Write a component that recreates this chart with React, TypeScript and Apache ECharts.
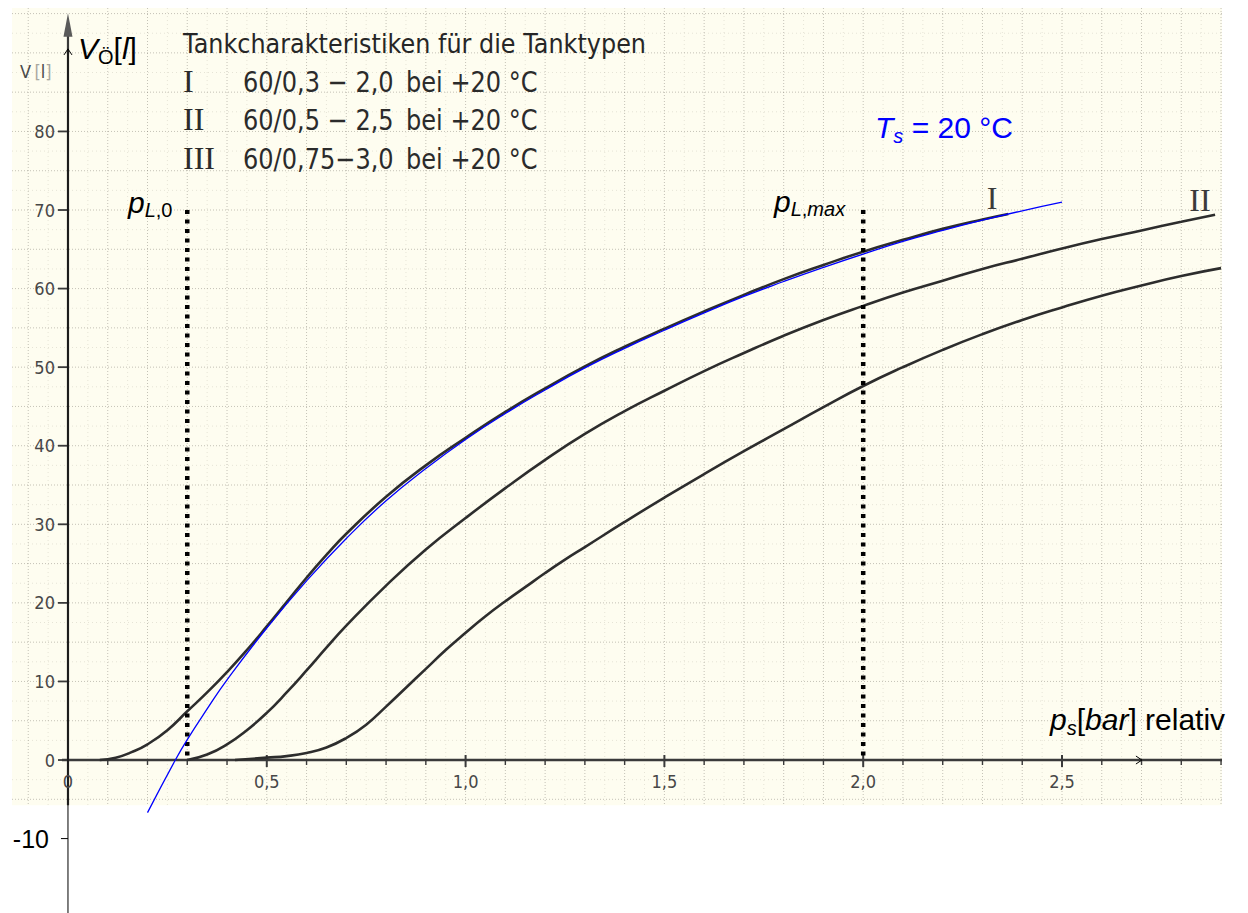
import React, { useEffect, useRef } from "react";
import * as echarts from "echarts";

// ---- Tank characteristics: pressure p_s [bar] -> oil volume V [l] ----
const pressureI = [0.08, 0.12, 0.16, 0.2, 0.25, 0.3, 0.35, 0.4, 0.45, 0.5, 0.55, 0.6, 0.65, 0.7, 0.8, 0.9, 1.0, 1.1, 1.2, 1.3, 1.4, 1.5, 1.6, 1.7, 1.8, 1.9, 2.0, 2.1, 2.2, 2.3, 2.365];
const volumeI = [0, 0.3, 1.0, 2.0, 3.8, 6.2, 8.6, 11.2, 14.0, 17.0, 20.1, 23.2, 26.1, 28.8, 33.5, 37.5, 41.0, 44.3, 47.3, 50.1, 52.6, 54.9, 57.1, 59.2, 61.2, 63.0, 64.7, 66.2, 67.6, 68.8, 69.5];

const pressureII = [0.3, 0.35, 0.4, 0.45, 0.5, 0.55, 0.6, 0.65, 0.7, 0.8, 0.9, 1.0, 1.1, 1.2, 1.3, 1.4, 1.5, 1.6, 1.7, 1.8, 1.9, 2.0, 2.1, 2.2, 2.3, 2.4, 2.5, 2.6, 2.7, 2.8, 2.885];
const volumeII = [0, 0.7, 2.0, 3.8, 6.0, 8.6, 11.4, 14.3, 17.1, 22.2, 26.8, 30.8, 34.6, 38.2, 41.5, 44.4, 47.0, 49.5, 51.8, 54.0, 56.0, 57.8, 59.5, 61.0, 62.5, 63.8, 65.1, 66.3, 67.4, 68.5, 69.4];

const pressureIII = [0.42, 0.5, 0.55, 0.6, 0.65, 0.7, 0.75, 0.8, 0.85, 0.9, 0.95, 1.0, 1.05, 1.1, 1.15, 1.2, 1.25, 1.3, 1.4, 1.5, 1.6, 1.7, 1.8, 1.9, 2.0, 2.1, 2.2, 2.3, 2.4, 2.5, 2.6, 2.7, 2.8, 2.9];
const volumeIII = [0, 0.3, 0.5, 0.9, 1.6, 2.8, 4.5, 6.8, 9.2, 11.6, 14.0, 16.2, 18.3, 20.2, 22.0, 23.8, 25.5, 27.1, 30.3, 33.4, 36.4, 39.3, 42.1, 44.9, 47.6, 50.0, 52.2, 54.2, 56.0, 57.6, 59.1, 60.4, 61.6, 62.6];

// Fitted curve for T_s = 20 °C
const pressureFit = [0.2, 0.27, 0.3, 0.35, 0.4, 0.5, 0.6, 0.7, 0.8, 0.9, 1.0, 1.1, 1.2, 1.3, 1.4, 1.5, 1.6, 1.7, 1.8, 1.9, 2.0, 2.1, 2.2, 2.3, 2.4, 2.5];
const volumeFit = [-6.7, 0, 2.6, 6.5, 10.2, 16.8, 22.8, 28.2, 33.0, 37.1, 40.8, 44.1, 47.1, 49.9, 52.4, 54.7, 56.9, 59.0, 60.9, 62.7, 64.4, 66.0, 67.4, 68.7, 69.9, 71.0];

// Pressure markers p_L,0 and p_L,max
const pL0 = 0.3;
const pLmax = 2.0;
const markerTop = 70;

// Axis labels
const xTickValues = [0, 0.5, 1.0, 1.5, 2.0, 2.5];
const xTickLabels = ["0", "0,5", "1,0", "1,5", "2,0", "2,5"];
const yTickValues = [-10, 0, 10, 20, 30, 40, 50, 60, 70, 80];

// Legend text
const chartTitle = "Tankcharakteristiken für die Tanktypen";
const tankTypes = ["I", "II", "III"];
const tankRanges = ["60/0,3 − 2,0", "60/0,5 − 2,5", "60/0,75−3,0"];
const tankCondition = "bei +20 °C";

// ---- view extents (data space) ----
const X_MIN = -0.1408;
const X_MAX = 2.9024;
const Y_MIN = -19.47;
const Y_MAX = 95.71;
const PAPER_BOTTOM = -5.75;
const SCAN_ARROW_TIP = 95.05;
const SCAN_ARROW_BASE = 92.3;
const OVERLAY_Y_TIP = 90.5;
const OVERLAY_X_TIP = 2.701;

// plot box in pixels
const GRID_LEFT = 12;
const GRID_TOP = 8;
const GRID_W = 1210;
const GRID_H = 905;
// axes cross at the origin, so shift them in from the plot edges
const X_AXIS_OFFSET = -((0 - Y_MIN) / (Y_MAX - Y_MIN)) * GRID_H;
const Y_AXIS_OFFSET = -((0 - X_MIN) / (X_MAX - X_MIN)) * GRID_W;

const PAPER = "#fefdf0";
const GRID_STRONG = "rgba(95,90,80,0.36)";
const GRID_FAINT = "rgba(120,115,100,0.18)";
const INK = "#3a3a3a";
const CURVE = "#2d2d2d";
const BLUE = "#0000ff";

const SERIF = "'Liberation Serif', 'DejaVu Serif', serif";
const SANS = "'Liberation Sans', Arial, sans-serif";
const TYPE = "'DejaVu Sans', sans-serif";
const NARROW = "'Liberation Sans Narrow', 'DejaVu Sans Condensed', sans-serif";

const pairs = (xs: number[], ys: number[]) => xs.map((x, i) => [x, ys[i]]);

// Graph paper, scanned axes and the thin overlay axes
const renderBackdrop = (_params: any, api: any) => {
  const at = (x: number, y: number) => api.coord([x, y]) as number[];
  const [left, top] = at(X_MIN, Y_MAX);
  const [right, bottom] = at(X_MAX, PAPER_BOTTOM);
  const [ox, oy] = at(0, 0);
  const kids: any[] = [];

  kids.push({
    type: "rect",
    shape: { x: left, y: top, width: right - left, height: bottom - top },
    style: { fill: PAPER },
  });

  for (let i = -2; i <= 58; i++) {
    const p = i * 0.05;
    if (p <= X_MIN || p >= X_MAX || i === 0) continue;
    const x = at(p, 0)[0];
    const strong = i % 2 === 0;
    kids.push({
      type: "line",
      shape: { x1: x, y1: top, x2: x, y2: bottom },
      style: { stroke: strong ? GRID_STRONG : GRID_FAINT, lineWidth: 1, lineDash: strong ? [1, 2] : [1, 3] },
    });
  }
  for (let j = -2; j <= 38; j++) {
    const v = j * 2.5;
    if (v <= PAPER_BOTTOM || v >= Y_MAX || j === 0) continue;
    const y = at(0, v)[1];
    const strong = j % 2 === 0;
    kids.push({
      type: "line",
      shape: { x1: left, y1: y, x2: right, y2: y },
      style: { stroke: strong ? GRID_STRONG : GRID_FAINT, lineWidth: 1, lineDash: strong ? [1, 2] : [1, 3] },
    });
  }

  // scanned vertical axis with filled arrowhead
  const arrowBase = at(0, SCAN_ARROW_BASE)[1];
  const arrowTip = at(0, SCAN_ARROW_TIP)[1];
  kids.push({ type: "line", shape: { x1: ox, y1: bottom, x2: ox, y2: arrowBase }, style: { stroke: INK, lineWidth: 2.2 } });
  kids.push({
    type: "polygon",
    shape: { points: [[ox, arrowTip], [ox - 4.5, arrowBase + 2], [ox + 4.5, arrowBase + 2]] },
    style: { fill: "#5a5a5a" },
  });
  // scanned horizontal axis
  kids.push({ type: "line", shape: { x1: ox - 6, y1: oy, x2: right, y2: oy }, style: { stroke: INK, lineWidth: 2.4 } });
  for (let i = 0; i <= 29; i++) {
    const x = at(i / 10, 0)[0];
    const major = i % 5 === 0;
    kids.push({
      type: "line",
      shape: { x1: x, y1: major ? oy - 5 : oy, x2: x, y2: major ? oy + 7 : oy + 5 },
      style: { stroke: INK, lineWidth: major ? 2 : 1.4 },
    });
  }
  for (let v = 0; v <= 80; v += 10) {
    const y = at(0, v)[1];
    kids.push({ type: "line", shape: { x1: ox - 10, y1: y, x2: ox, y2: y }, style: { stroke: INK, lineWidth: 1.8 } });
  }

  // overlay axes (thin, open arrows)
  const tipY = at(0, OVERLAY_Y_TIP)[1];
  const baseY = at(0, Y_MIN)[1];
  kids.push({ type: "line", shape: { x1: ox, y1: baseY, x2: ox, y2: tipY }, style: { stroke: "#000", lineWidth: 1 } });
  kids.push({
    type: "polyline",
    shape: { points: [[ox - 4, tipY + 6], [ox, tipY], [ox + 4, tipY + 6]] },
    style: { stroke: "#000", lineWidth: 1, fill: null },
  });
  const tipX = at(OVERLAY_X_TIP, 0)[0];
  kids.push({
    type: "polyline",
    shape: { points: [[tipX - 6, oy - 4], [tipX, oy], [tipX - 6, oy + 4]] },
    style: { stroke: "#000", lineWidth: 1, fill: null },
  });
  const yNeg = at(0, -10)[1];
  kids.push({ type: "line", shape: { x1: ox - 7, y1: yNeg, x2: ox, y2: yNeg }, style: { stroke: "#000", lineWidth: 1 } });

  return { type: "group", children: kids };
};

const mathRich = (fill: string) => ({
  it: { fontFamily: SANS, fontStyle: "italic", fontSize: 30, lineHeight: 36, fill },
  up: { fontFamily: SANS, fontSize: 30, lineHeight: 36, fill },
  sit: { fontFamily: SANS, fontStyle: "italic", fontSize: 20, lineHeight: 20, verticalAlign: "bottom", fill },
  sup: { fontFamily: SANS, fontSize: 20, lineHeight: 20, verticalAlign: "bottom", fill },
});

const mathText = (x: number, y: number, text: string, fill = "#000") => ({
  type: "text",
  x,
  y,
  z: 100,
  silent: true,
  style: { text, fill, verticalAlign: "middle", align: "left", rich: mathRich(fill) },
});

const plainText = (x: number, y: number, text: string, font: string, size: number, fill: string, scaleX = 1, align = "left") => ({
  type: "text",
  x,
  y,
  z: 100,
  scaleX,
  silent: true,
  style: { text, fontFamily: font, fontSize: size, fill, verticalAlign: "middle", align },
});

const rowY = [81.5, 120, 158.5];

const graphicElements: any[] = [
  plainText(183, 44, chartTitle, TYPE, 26, "#262626", 0.92),
  ...tankTypes.map((t, i) => plainText(183, rowY[i] - 1, t, SERIF, 32, "#2b2b2b")),
  ...tankRanges.map((t, i) => plainText(243, rowY[i], t, TYPE, 29, "#2b2b2b", 0.83)),
  ...tankRanges.map((_, i) => plainText(406, rowY[i], tankCondition, TYPE, 29, "#2b2b2b", 0.83)),
  plainText(992, 198, "I", SERIF, 32, "#3a3a3a", 1, "center"),
  plainText(1200, 200, "II", SERIF, 32, "#3a3a3a", 1, "center"),
  {
    type: "text",
    x: 20,
    y: 71,
    z: 100,
    silent: true,
    style: {
      text: "{a|V} {b|[}{a|l}{b|]}",
      verticalAlign: "middle",
      rich: {
        a: { fontFamily: NARROW, fontSize: 18, fill: "#4a4a4a" },
        b: { fontFamily: NARROW, fontSize: 18, fill: "#a8a8a0" },
      },
    },
  },
  mathText(78, 48.5, "{it|V}{sup|Ö}{up|[}{it|l}{up|]}"),
  mathText(128, 202, "{it|p}{sit|L}{sup|,0}"),
  mathText(774, 201, "{it|p}{sit|L}{sup|,}{sit|max}"),
  mathText(875, 127.5, "{it|T}{sit|s}{up| = 20 °C}", BLUE),
  mathText(1050, 719.5, "{it|p}{sit|s}{up|[}{it|bar}{up|] relativ}"),
];

const lineSeries = (name: string, data: number[][], color: string, width: number, z: number) => ({
  type: "line",
  name,
  data,
  smooth: 0.5,
  symbol: "none",
  lineStyle: { color, width },
  z,
});

const option: any = {
  animation: false,
  grid: {
    left: GRID_LEFT,
    top: GRID_TOP,
    width: GRID_W,
    height: GRID_H,
    containLabel: false,
    outerBoundsMode: "none",
  },
  xAxis: {
    type: "value",
    min: X_MIN,
    max: X_MAX,
    position: "bottom",
    offset: X_AXIS_OFFSET,
    axisLine: { show: false, onZero: false },
    axisTick: { show: false },
    splitLine: { show: false },
    axisLabel: {
      customValues: xTickValues,
      formatter: (v: number) => {
        const i = xTickValues.findIndex((t) => Math.abs(t - v) < 1e-9);
        return i >= 0 ? xTickLabels[i] : "";
      },
      margin: 12,
      fontFamily: NARROW,
      fontSize: 18,
      color: "#474747",
    },
  },
  yAxis: {
    type: "value",
    min: Y_MIN,
    max: Y_MAX,
    position: "left",
    offset: Y_AXIS_OFFSET,
    axisLine: { show: false, onZero: false },
    axisTick: { show: false },
    splitLine: { show: false },
    axisLabel: {
      customValues: yTickValues,
      formatter: (v: number) => (v < 0 ? `{ov|${v}}` : `{sc|${v}}`),
      margin: 13,
      rich: {
        sc: { fontFamily: NARROW, fontSize: 18, color: "#474747" },
        ov: { fontFamily: SANS, fontSize: 25, color: "#000", padding: [0, 6, 0, 0] },
      },
    },
  },
  graphic: { elements: graphicElements },
  series: [
    {
      type: "custom",
      coordinateSystem: "cartesian2d",
      renderItem: renderBackdrop,
      data: [[0, 0]],
      silent: true,
      z: 0,
    },
    lineSeries("I", pairs(pressureI, volumeI), CURVE, 2.6, 2),
    lineSeries("II", pairs(pressureII, volumeII), CURVE, 2.6, 2),
    lineSeries("III", pairs(pressureIII, volumeIII), CURVE, 2.6, 2),
    {
      type: "line",
      name: "p_L,0",
      data: [[pL0, markerTop], [pL0, 0]],
      symbol: "none",
      lineStyle: { color: "#000", width: 4.5, type: [4, 5.5], cap: "butt" },
      z: 3,
    },
    {
      type: "line",
      name: "p_L,max",
      data: [[pLmax, markerTop], [pLmax, 0]],
      symbol: "none",
      lineStyle: { color: "#000", width: 4.5, type: [4, 5.5], cap: "butt" },
      z: 3,
    },
    lineSeries("T_s = 20 °C", pairs(pressureFit, volumeFit), BLUE, 1.3, 4),
  ],
};

export default function App() {
  const ref = useRef<HTMLDivElement>(null);
  useEffect(() => {
    if (!ref.current) return;
    const chart = echarts.init(ref.current, undefined, { renderer: "svg" });
    chart.setOption(option);
    return () => chart.dispose();
  }, []);
  return (
    <div
      ref={ref}
      style={{ position: "absolute", left: 0, top: 0, width: 1248, height: 913, background: "#fff" }}
    />
  );
}
